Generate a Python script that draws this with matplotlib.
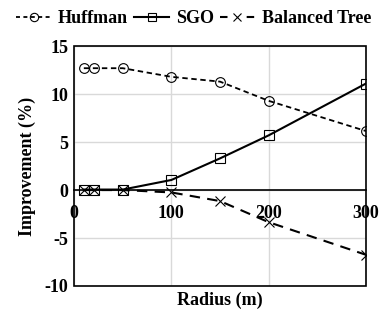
import matplotlib.pyplot as plt
from matplotlib.patches import Rectangle

# Data
radius = [10, 20, 50, 100, 150, 200, 300]
huffman = [12.7, 12.7, 12.7, 11.8, 11.3, 9.3, 6.15]
sgo = [0.05, 0.05, 0.05, 1.05, 3.3, 5.7, 11.1]
balanced = [0.0, 0.0, 0.0, -0.25, -1.15, -3.35, -6.75]
x_ticks = [0, 100, 200, 300]
y_ticks = [-10, -5, 0, 5, 10, 15]

plt.rcParams['font.family'] = ['Liberation Serif', 'DejaVu Serif']
plt.rcParams['font.weight'] = 'bold'
plt.rcParams['axes.unicode_minus'] = False

fig = plt.figure(figsize=(3.8, 3.16), dpi=100)
ax = fig.add_axes([0.195, 0.095, 0.768, 0.759])

ax.plot(radius, huffman, color='black', lw=1.3, ls=(0, (3, 2)), marker='o',
        ms=7, mfc='none', mec='black', mew=0.8, label='Huffman')
ax.plot(radius, sgo, color='black', lw=1.5, ls='-', marker='s',
        ms=7, mfc='none', mec='black', mew=0.8, label='SGO')
ax.plot(radius, balanced, color='black', lw=1.5, ls=(0, (5, 3.5)), marker='x',
        ms=7, mec='black', mew=0.8, label='Balanced Tree')

ax.set_xlim(0, 300)
ax.set_ylim(-10, 15)
ax.set_xticks(x_ticks)
ax.set_yticks(y_ticks)
ax.grid(True, color='#d9d9d9', lw=1)
ax.set_axisbelow(True)

# Excel style: x axis crosses at y = 0, box drawn around plot area
for s in ['top', 'right', 'left']:
    ax.spines[s].set_visible(False)
ax.spines['bottom'].set_position(('data', 0))
ax.spines['bottom'].set_linewidth(1.2)
ax.add_patch(Rectangle((0, 0), 1, 1, transform=ax.transAxes, fill=False,
                       ec='black', lw=1.2, clip_on=False, zorder=5))
ax.tick_params(length=0, labelsize=13, pad=4)
ax.tick_params(axis='x', pad=11)

ax.set_xlabel('Radius (m)', fontsize=13, fontweight='bold')
ax.set_ylabel('Improvement (%)', fontsize=13, fontweight='bold', labelpad=6)
ax.xaxis.set_label_coords(0.5, -0.025)

leg = fig.legend(loc='upper center', bbox_to_anchor=(0.51, 1.02), ncol=3, frameon=False,
                 fontsize=13, handlelength=1.9, handletextpad=0.4, columnspacing=0.35)
# legend handles: smaller markers, Excel-like dash look (dashes scale with lw)
for h in leg.legend_handles:
    h.set_markersize(6)
leg.legend_handles[0].set_linestyle((0, (2.2, 1.9)))
leg.legend_handles[2].set_linestyle((0, (3.6, 9.2)))

fig.savefig('out.png', dpi=100)
